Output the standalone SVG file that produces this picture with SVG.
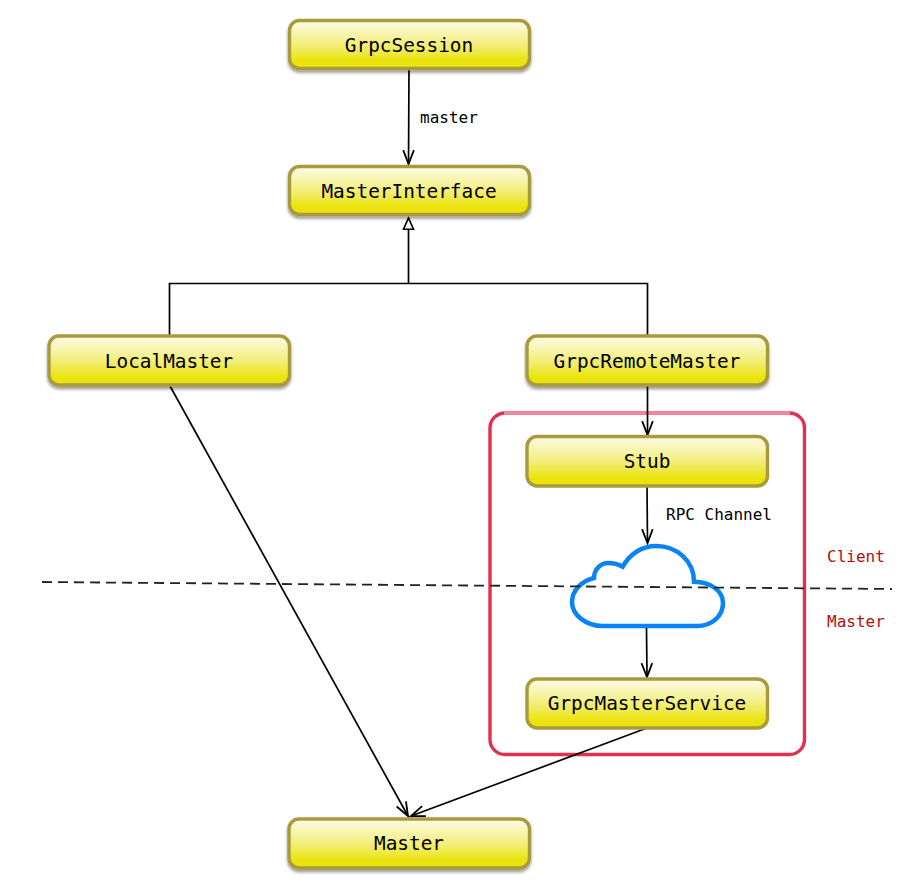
<svg xmlns="http://www.w3.org/2000/svg" width="920" height="890" viewBox="0 0 920 890">
<style>
text{font-family:"DejaVu Sans Mono","Liberation Mono",monospace;fill:#000}
.n{font-size:19.4px;text-anchor:middle}
.l{font-size:16px}
.r{font-size:16px;fill:#b01010}
.b{fill:url(#g);stroke:#a99a3e;stroke-width:3.4;filter:url(#s)}
.c{fill:none;stroke:#000;stroke-width:1.7}
</style>
<defs>
<linearGradient id="g" x1="0" y1="0" x2="0" y2="1"><stop offset="0" stop-color="#fdfcea"/><stop offset="0.5" stop-color="#f3ee7c"/><stop offset="0.85" stop-color="#ebe30c"/><stop offset="1" stop-color="#ebe30c"/></linearGradient>
<filter id="s" x="-5%" y="-15%" width="110%" height="140%"><feDropShadow dx="0" dy="2.500" stdDeviation="1.500" flood-color="#000" flood-opacity="0.4"/></filter>
<marker id="o" markerUnits="userSpaceOnUse" markerWidth="16" markerHeight="14" refX="13.500" refY="6" orient="auto" viewBox="0 0 15 12"><path d="M0.500 1L13.500 6L0.500 11" fill="none" stroke="#000" stroke-width="1.700"/></marker>
<marker id="t" markerUnits="userSpaceOnUse" markerWidth="14" markerHeight="14" refX="11.500" refY="5.500" orient="auto" viewBox="0 0 13 11"><path d="M1 0.800L11.500 5.500L1 10.200Z" fill="#fff" stroke="#000" stroke-width="1.500"/></marker>
</defs>
<g id="group-box"><rect x="490" y="413" width="314.500" height="341.500" rx="15" fill="none" stroke="#e2304f" stroke-width="3.400"/><path d="M504 413H790" fill="none" stroke="#f08a9c" stroke-width="3.400"/></g>
<g id="cloud"><path d="M603 626C586 626 572 615 572 602C572 590 582 581 594 578C594 569 601 563 608 563C613 563 618 564 622.700 566.700C630 553 643 546 656 546C677 546 694 561 694 581.700C711 582 723 591 723 603C723 616 712 626 697 626Z" fill="none" stroke="#0a84f5" stroke-width="4.500" stroke-linejoin="miter"/></g>
<g id="connectors">
<path class="c" d="M409 69L408.500 164" marker-end="url(#o)"/>
<path class="c" d="M408.500 283V218" marker-end="url(#t)"/>
<path class="c" d="M169.500 335V283.500H647.500V335"/>
<path class="c" d="M647.500 385V435" marker-end="url(#o)"/>
<path class="c" d="M647 486L647.500 543" marker-end="url(#o)"/>
<path class="c" d="M646.500 628L647 677" marker-end="url(#o)"/>
<path class="c" d="M170 386L408 816" marker-end="url(#o)"/>
<path class="c" d="M647 728L411 816" marker-end="url(#o)"/>
</g>
<path id="divider" d="M42 582L892 589" fill="none" stroke="#222" stroke-width="1.800" stroke-dasharray="10 6"/>
<g id="GrpcSession"><rect class="b" x="289.500" y="20.500" width="240" height="48" rx="10"/><text class="n" x="409" y="52">GrpcSession</text></g>
<g id="MasterInterface"><rect class="b" x="289.500" y="166.500" width="240" height="48" rx="10"/><text class="n" x="409" y="198">MasterInterface</text></g>
<g id="LocalMaster"><rect class="b" x="49" y="336" width="240.500" height="49" rx="10"/><text class="n" x="169" y="368">LocalMaster</text></g>
<g id="GrpcRemoteMaster"><rect class="b" x="527" y="336" width="240.500" height="49" rx="10"/><text class="n" x="647" y="368">GrpcRemoteMaster</text></g>
<g id="Stub"><rect class="b" x="527" y="436.500" width="240.500" height="49.500" rx="10" style="filter:none"/><text class="n" x="647" y="468">Stub</text></g>
<g id="GrpcMasterService"><rect class="b" x="527" y="679" width="240.500" height="49" rx="10" style="filter:none"/><text class="n" x="647" y="710">GrpcMasterService</text></g>
<g id="Master"><rect class="b" x="289" y="819" width="240.500" height="49" rx="10"/><text class="n" x="409" y="850">Master</text></g>
<g id="labels">
<text class="l" x="420" y="123">master</text>
<text class="l" x="666" y="520">RPC Channel</text>
<text class="r" x="827" y="562">Client</text>
<text class="r" x="827" y="627">Master</text>
</g>
</svg>
